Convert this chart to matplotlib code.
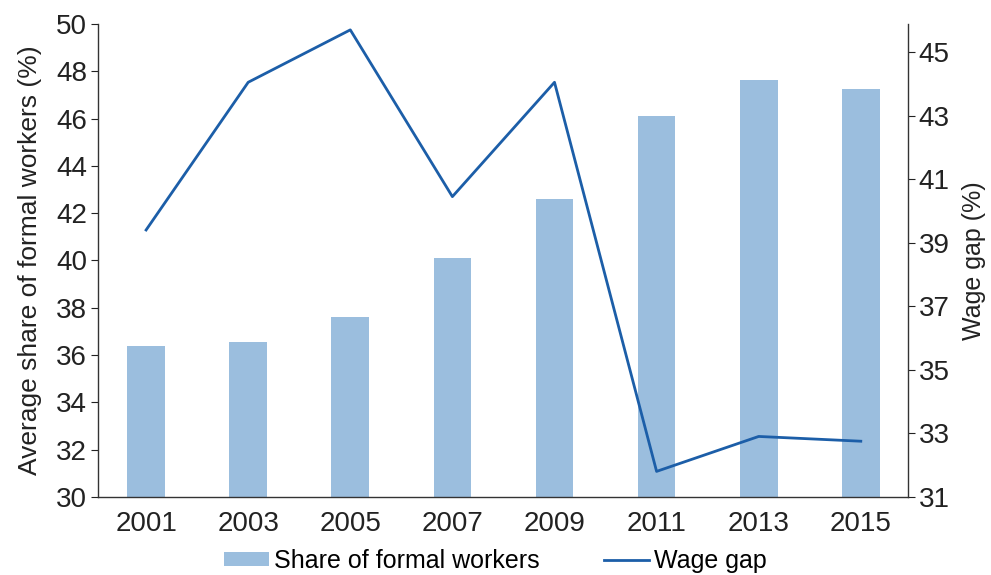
import matplotlib.pyplot as plt
import numpy as np

years = ["2001", "2003", "2005", "2007", "2009", "2011", "2013", "2015"]
share_formal = [36.4, 36.55, 37.6, 40.1, 42.6, 46.1, 47.65, 47.25]
wage_gap = [39.4, 44.05, 45.7, 40.45, 44.05, 31.8, 32.9, 32.75]

plt.rcParams['font.family'] = ['Liberation Sans', 'DejaVu Sans']

bar_color = "#9BBEDE"
line_color = "#1C5EA8"
text_color = "#222222"

fig = plt.figure(figsize=(9.91, 5.75), dpi=100)
ax = fig.add_axes([0.099, 0.136, 0.817, 0.822])
x = np.arange(len(years))

bars = ax.bar(x, share_formal, width=0.37, color=bar_color, label="Share of formal workers")
ax.set_ylim(30, 50)
ax.set_yticks(range(30, 51, 2))
ax.set_xlim(-0.47, 7.46)
ax.set_xticks(x)
ax.set_xticklabels(years)
ax.set_ylabel("Average share of formal workers (%)", fontsize=19, color=text_color, labelpad=10)
ax.tick_params(axis="x", length=0, labelsize=20, pad=10, colors=text_color)
ax.tick_params(axis="y", length=5, labelsize=20, pad=3, colors=text_color)

ax2 = ax.twinx()
line, = ax2.plot(x, wage_gap, color=line_color, linewidth=2, label="Wage gap")
ax2.set_ylim(31, 45.88)
ax2.set_yticks(range(31, 46, 2))
ax2.set_ylabel("Wage gap (%)", fontsize=18, color=text_color, labelpad=9)
ax2.tick_params(axis="y", length=5, labelsize=20, pad=3, colors=text_color)

for a in (ax, ax2):
    a.spines["top"].set_visible(False)
    for s in a.spines.values():
        s.set_color("#333333")
        s.set_linewidth(1)
ax.spines["right"].set_visible(False)
ax2.spines["left"].set_visible(False)
ax2.spines["bottom"].set_visible(False)

fig.legend([bars, line], ["Share of formal workers", "Wage gap"], loc="lower center",
           bbox_to_anchor=(0.5, -0.035), ncol=2, frameon=False, fontsize=18,
           columnspacing=2.6, handlelength=1.8, handleheight=0.5, handletextpad=0.2)

fig.savefig("out.png", dpi=100)
